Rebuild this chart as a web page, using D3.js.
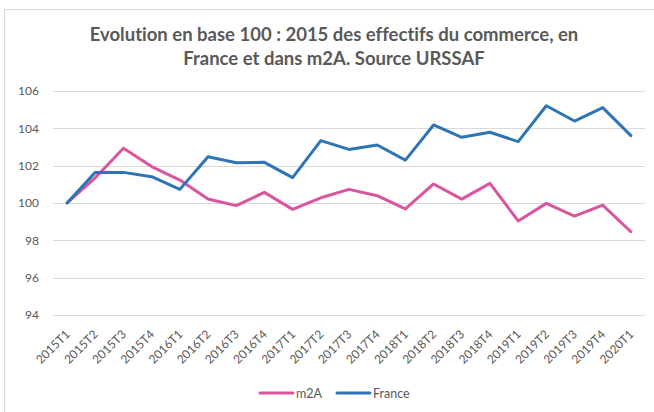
<!DOCTYPE html>
<html>
<head>
<meta charset="utf-8">
<script src="https://cdn.jsdelivr.net/npm/d3@7"></script>
<style>
  body { margin: 0; background: #fff; }
  text { font-family: Lato, "Open Sans", sans-serif; fill: #595959; font-variant-ligatures: none; }
</style>
</head>
<body>
<svg id="chart"></svg>
<script>
// data
const quarters = ["2015T1", "2015T2", "2015T3", "2015T4", "2016T1", "2016T2", "2016T3", "2016T4",
    "2017T1", "2017T2", "2017T3", "2017T4", "2018T1", "2018T2", "2018T3", "2018T4",
    "2019T1", "2019T2", "2019T3", "2019T4", "2020T1"];
const m2A = [100, 101.35, 102.93, 101.95, 101.23, 100.21, 99.86, 100.57, 99.66, 100.28, 100.73,
    100.39, 99.68, 101.02, 100.21, 101.05, 99.04, 99.98, 99.30, 99.89, 98.46];
const france = [100, 101.64, 101.64, 101.41, 100.73, 102.48, 102.16, 102.18, 101.36, 103.34, 102.87,
    103.11, 102.30, 104.18, 103.52, 103.79, 103.29, 105.21, 104.39, 105.11, 103.61];
const yTicks = [94, 96, 98, 100, 102, 104, 106];

const series = [
    {name: "m2A", values: m2A, color: "#d9569f"},
    {name: "France", values: france, color: "#2e75b6"}
];

const width = 654;
const height = 412;
const margin = {top: 91, right: 9, bottom: 97, left: 53};

const svg = d3.select('#chart')
    .attr('width', width)
    .attr('height', height);

// chart area border
svg.append('rect')
    .attr('x', 4.5)
    .attr('y', 9.5)
    .attr('width', 700)
    .attr('height', 500)
    .attr('fill', 'none')
    .attr('stroke', '#d9d9d9');

// title
const title = svg.append('text')
    .attr('text-anchor', 'middle')
    .style('font-size', '18.5px')
    .style('font-weight', 'bold');
title.append('tspan').attr('x', 334).attr('y', 41)
    .text('Evolution en base 100 : 2015 des effectifs du commerce, en');
title.append('tspan').attr('x', 334).attr('y', 65)
    .text('France et dans m2A. Source URSSAF');

const x = d3.scalePoint()
    .domain(quarters)
    .range([margin.left, width - margin.right])
    .padding(0.5);

const y = d3.scaleLinear()
    .domain([94, 106])
    .range([height - margin.bottom, margin.top]);

// gridlines
svg.append('g')
    .selectAll('line')
    .data(yTicks)
    .enter()
    .append('line')
    .attr('x1', margin.left)
    .attr('x2', width - margin.right)
    .attr('y1', d => Math.round(y(d)) + 0.5)
    .attr('y2', d => Math.round(y(d)) + 0.5)
    .attr('stroke', '#d9d9d9')
    .attr('stroke-width', 1);

// Y axis labels
svg.append('g')
    .attr('transform', 'translate(' + (margin.left - 14) + ',0)')
    .call(d3.axisLeft(y).tickValues(yTicks).tickSize(0).tickPadding(0))
    .call(g => g.select('.domain').remove())
    .selectAll('text')
    .style('font-size', '12px')
    .style('font-family', 'Lato, sans-serif')
    .attr('fill', '#595959');

// X axis labels
svg.append('g')
    .attr('transform', 'translate(0,' + (height - margin.bottom) + ')')
    .call(d3.axisBottom(x).tickSize(0).tickPadding(0))
    .call(g => g.select('.domain').remove())
    .selectAll('text')
    .style('font-size', '12px')
    .style('font-family', 'Lato, sans-serif')
    .attr('fill', '#595959')
    .attr('dy', 0)
    .attr('transform', 'translate(3,20)rotate(-45)')
    .style('text-anchor', 'end');

// lines
const line = d3.line()
    .x((d, i) => x(quarters[i]))
    .y(d => y(d));

svg.selectAll('.series')
    .data(series)
    .enter()
    .append('path')
    .attr('class', 'series')
    .attr('d', d => line(d.values))
    .attr('fill', 'none')
    .attr('stroke', d => d.color)
    .attr('stroke-width', 3)
    .attr('stroke-linejoin', 'round')
    .attr('stroke-linecap', 'round');

// legend
const legend = svg.append('g')
    .attr('transform', 'translate(260,393)');
const legendX = [0, 77];
series.forEach(function(s, i) {
    const g = legend.append('g').attr('transform', 'translate(' + legendX[i] + ',0)');
    g.append('line')
        .attr('x1', 0).attr('x2', 33)
        .attr('y1', 0).attr('y2', 0)
        .attr('stroke', s.color)
        .attr('stroke-width', 3)
        .attr('stroke-linecap', 'round');
    g.append('text')
        .attr('x', 36)
        .attr('y', 4.5)
        .style('font-size', '12.5px')
        .text(s.name);
});
</script>
</body>
</html>
